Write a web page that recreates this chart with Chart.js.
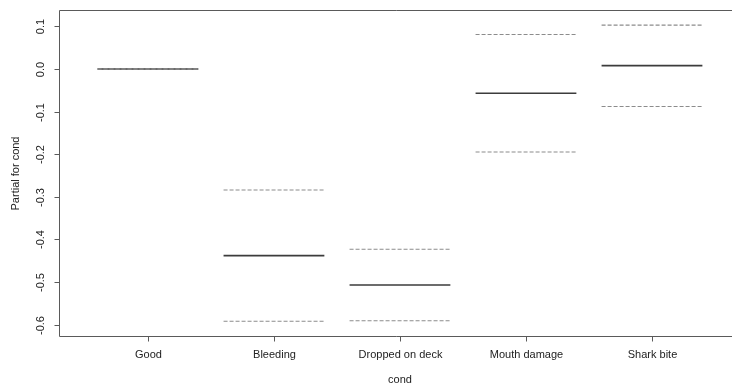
<!DOCTYPE html>
<html>
<head>
<meta charset="utf-8">
<script src="https://cdn.jsdelivr.net/npm/chart.js@4/dist/chart.umd.min.js"></script>
<style>
  html, body { margin: 0; padding: 0; background: #fff; overflow: hidden; }
  #wrap { width: 732px; height: 390px; }
</style>
</head>
<body>
<div id="wrap"><canvas id="c" width="732" height="390"></canvas></div>
<script>
// Partial effect of the factor "cond" with +/- 2 SE bands
const categories = ["Good", "Bleeding", "Dropped on deck", "Mouth damage", "Shark bite"];
const fitValues   = [0.000, -0.438, -0.507, -0.057, 0.008];
const upperValues = [0.000, -0.284, -0.423,  0.081, 0.103];
const lowerValues = [0.000, -0.592, -0.591, -0.195, -0.088];
const yTickValues = [0.1, 0.0, -0.1, -0.2, -0.3, -0.4, -0.5, -0.6];
const yTickLabels = ["0.1", "0.0", "-0.1", "-0.2", "-0.3", "-0.4", "-0.5", "-0.6"];
const xTitle = "cond";
const yTitle = "Partial for cond";

const HALF = 0.4; // half-width of each level's segment, in category units
const FONT = '11px "Liberation Sans", Arial, sans-serif';

// one horizontal segment per level, broken by null gaps
function segments(values) {
  const pts = [];
  values.forEach((v, i) => {
    const c = i + 1;
    pts.push({ x: c - HALF, y: v }, { x: c + HALF, y: v }, { x: c + HALF, y: null });
  });
  return pts;
}

const framePlugin = {
  id: 'frame',
  afterDraw(chart) {
    const { ctx, chartArea: a, scales: { x, y } } = chart;
    ctx.save();
    ctx.strokeStyle = '#5a5a5a';
    ctx.lineWidth = 1;
    const L = Math.round(a.left) - 0.5, T = Math.round(a.top) - 0.5, B = Math.round(a.bottom) + 0.5;
    ctx.beginPath();
    ctx.moveTo(a.right + 2, T); ctx.lineTo(L, T); ctx.lineTo(L, B); ctx.lineTo(a.right + 2, B);
    ctx.stroke();

    ctx.fillStyle = '#222';
    ctx.font = FONT;

    // y ticks and rotated labels
    yTickValues.forEach((v, i) => {
      const py = Math.round(y.getPixelForValue(v)) + 0.5;
      ctx.beginPath(); ctx.moveTo(L - 5, py); ctx.lineTo(L, py); ctx.stroke();
      ctx.save();
      ctx.translate(41, py);
      ctx.rotate(-Math.PI / 2);
      ctx.textAlign = 'center'; ctx.textBaseline = 'middle';
      ctx.fillText(yTickLabels[i], 0, 0);
      ctx.restore();
    });

    // x ticks and labels
    categories.forEach((name, i) => {
      const px = Math.round(x.getPixelForValue(i + 1)) + 0.5;
      ctx.beginPath(); ctx.moveTo(px, B); ctx.lineTo(px, B + 5); ctx.stroke();
      ctx.textAlign = 'center'; ctx.textBaseline = 'middle';
      ctx.fillText(name, px, 355);
    });

    // axis titles
    ctx.textAlign = 'center'; ctx.textBaseline = 'middle';
    ctx.fillText(xTitle, (a.left + 740) / 2, 380);
    ctx.save();
    ctx.translate(16, (a.top + a.bottom) / 2);
    ctx.rotate(-Math.PI / 2);
    ctx.fillText(yTitle, 0, 0);
    ctx.restore();
    ctx.restore();
  }
};

new Chart(document.getElementById('c'), {
  type: 'scatter',
  data: {
    datasets: [
      { label: 'fit', data: segments(fitValues), showLine: true, spanGaps: false,
        borderColor: '#3c3c3c', borderWidth: 1.6, pointRadius: 0, order: 2 },
      { label: 'upper', data: segments(upperValues), showLine: true, spanGaps: false,
        borderColor: '#8c8c8c', borderWidth: 1.1, borderDash: [4, 2], pointRadius: 0, order: 1 },
      { label: 'lower', data: segments(lowerValues), showLine: true, spanGaps: false,
        borderColor: '#8c8c8c', borderWidth: 1.1, borderDash: [4, 2], pointRadius: 0, order: 1 }
    ]
  },
  options: {
    responsive: false,
    animation: false,
    devicePixelRatio: 1,
    layout: { padding: { left: 60, top: 11, right: 0, bottom: 54 } },
    plugins: { legend: { display: false }, tooltip: { enabled: false } },
    scales: {
      x: { type: 'linear', min: 0.302, max: 5.635, display: false },
      y: { type: 'linear', min: -0.6268, max: 0.1362, display: false }
    }
  },
  plugins: [framePlugin]
});
</script>
</body>
</html>
